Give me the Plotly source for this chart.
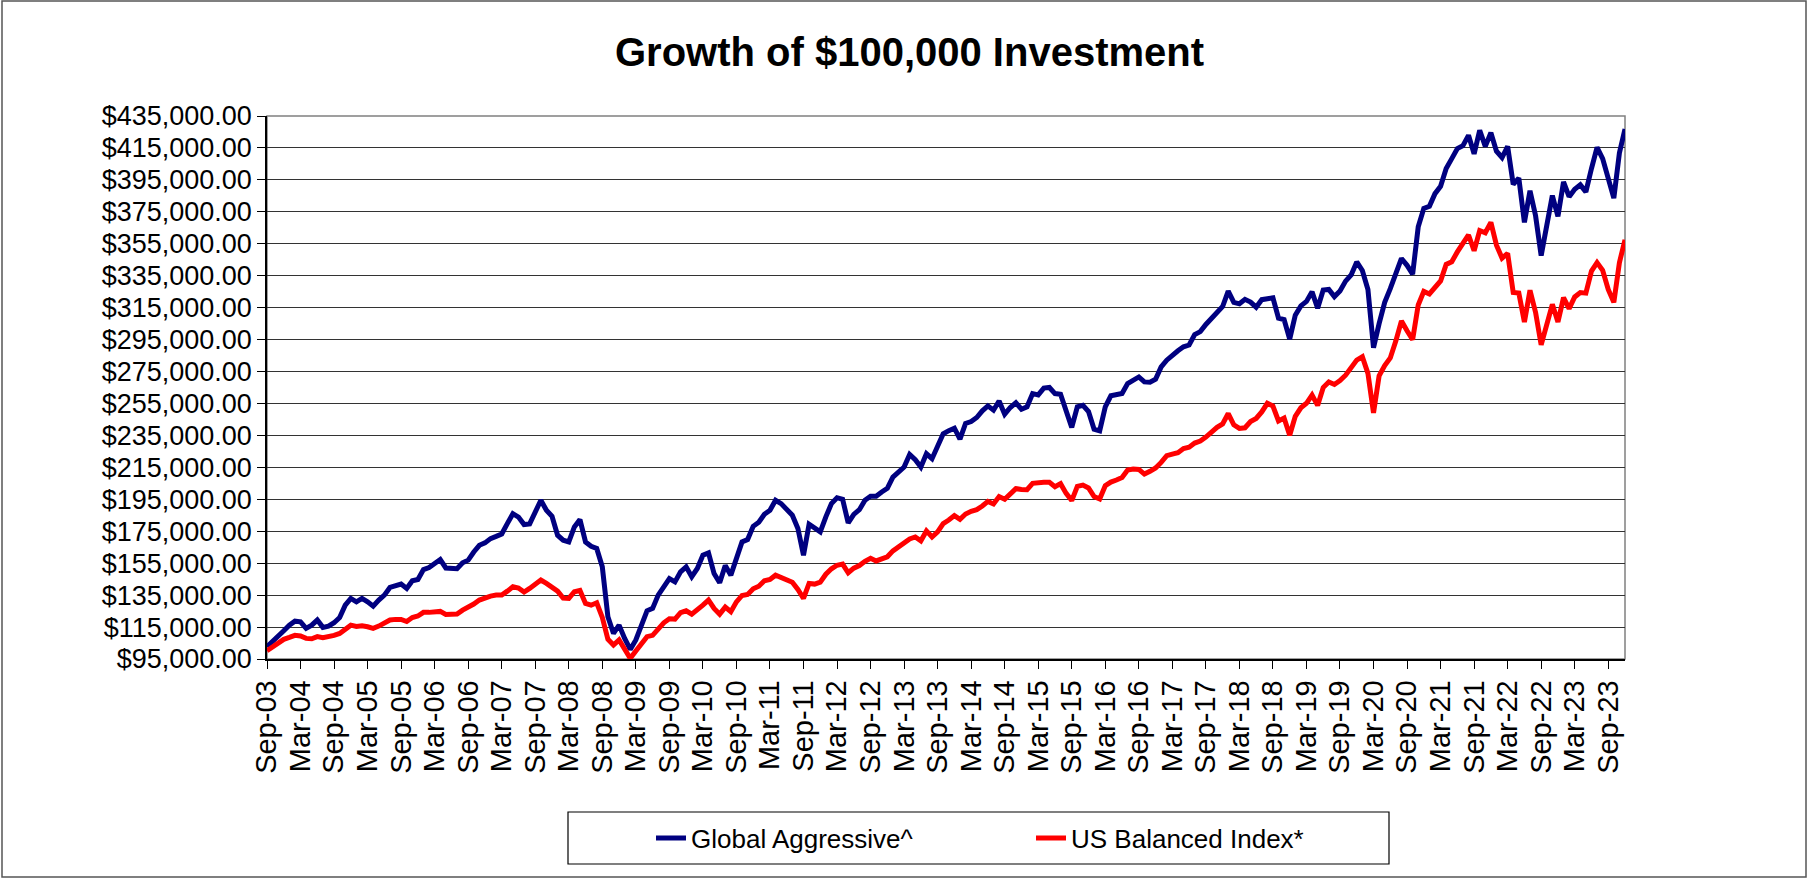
import pandas as pd
import plotly.graph_objects as go

# Monthly categories Sep-03 .. Dec-23
months = list(pd.date_range("2003-09-01", periods=244, freq="MS").strftime("%b-%y"))
tick_labels = months[::6]

global_aggressive = [
    102700, 105800, 109000, 112700, 116200, 118700, 118300, 114200, 116200, 119400, 114800, 115600,
    117700, 121000, 128700, 132900, 130800, 132900, 130800, 128100, 131900, 135000, 139800, 140600,
    141900, 139200, 144000, 144800, 151000, 152300, 155200, 157300, 152000, 151700, 151500, 155200,
    156900, 162000, 166200, 167700, 170400, 171800, 173300, 179800, 186000, 183900, 179200, 179600,
    187100, 194400, 188100, 184400, 172500, 169400, 168300, 177700, 182300, 168300, 165600, 164200,
    152700, 121500, 111000, 116200, 107900, 101000, 106900, 116200, 125200, 126700, 135000, 140200,
    145400, 143300, 149600, 152700, 146500, 151700, 160000, 161400, 148500, 142700, 153500, 147500,
    158500, 168300, 169800, 178100, 180600, 185600, 188100, 194400, 192300, 189000, 185000, 176700,
    160000, 179400, 176700, 174600, 184000, 192300, 196000, 195000, 180200, 185600, 188500, 194400,
    196900, 196900, 199600, 201900, 208900, 212100, 215200, 223100, 219800, 215200, 223500, 220400,
    228700, 236000, 238000, 239500, 232700, 242500, 243700, 246200, 250400, 253500, 250800, 256600,
    248300, 252500, 255400, 251400, 252900, 261200, 260400, 264600, 265000, 261200, 260800, 250800,
    240000, 252900, 253900, 250000, 238900, 237900, 252900, 259800, 260800, 261200, 267500, 269600,
    271600, 268500, 268300, 270200, 277900, 282100, 285400, 288000, 290500, 291600, 298100, 300000,
    304500, 308200, 311400, 315700, 325400, 318300, 317400, 320200, 318500, 315300, 320000, 320200,
    321100, 308400, 307500, 295300, 310300, 316100, 318900, 324900, 314600, 326000, 326400, 321900,
    325400, 331600, 335500, 343600, 338300, 326400, 289900, 305000, 318300, 326900, 336800, 345800,
    341500, 336000, 365600, 377200, 378500, 386400, 391000, 402100, 408300, 414600, 416400, 422900,
    411300, 426100, 416000, 424500, 413000, 409000, 416000, 392200, 396100, 368400, 388200, 372500,
    347600, 366800, 385200, 372100, 393800, 384500, 389200, 391900, 387500, 402100, 415300, 408300,
    396800, 383600, 411800, 426800,
]

us_balanced_index = [
    100200, 102700, 104800, 107300, 108500, 109800, 109400, 107900, 107700, 109000, 108300, 108700,
    109800, 111000, 113500, 116200, 115400, 115800, 115200, 114200, 115600, 117300, 119400, 119800,
    119800, 118500, 121000, 121900, 124200, 124200, 124400, 124800, 122900, 122700, 123100, 125600,
    127300, 129400, 131900, 133300, 134400, 135000, 135000, 137500, 140200, 139400, 136900, 139200,
    141900, 144400, 142300, 140200, 137500, 133100, 132900, 137100, 137900, 129800, 128700, 130200,
    121000, 107300, 103700, 106900, 101000, 95400, 100000, 104800, 109000, 109800, 114200, 117700,
    120200, 120000, 124000, 125200, 123100, 125600, 128700, 131900, 126700, 123100, 127500, 124600,
    130800, 134800, 135400, 139000, 140600, 144000, 144800, 147500, 146200, 144800, 143100, 138500,
    132900, 142300, 141900, 143100, 148100, 151500, 153700, 154400, 149000, 151900, 153500, 156200,
    158100, 156400, 157300, 159000, 162700, 165200, 168100, 170200, 171400, 169000, 175200, 171400,
    174600, 179800, 182000, 184800, 182500, 185800, 187500, 188500, 190800, 193700, 192100, 196700,
    195000, 198300, 201700, 201200, 201000, 205000, 205600, 205600, 205600, 202900, 204800, 198700,
    194200, 203100, 203900, 202100, 196700, 195200, 203500, 205800, 207100, 208700, 213300, 214000,
    213700, 210800, 212500, 214600, 218100, 222300, 223300, 224200, 226800, 227600, 230200, 231500,
    234000, 237300, 240100, 242200, 248700, 241600, 239400, 239800, 243700, 245600, 249700, 255100,
    253400, 244100, 245900, 235100, 246900, 252300, 255100, 260300, 253800, 265000, 268400, 266900,
    269300, 272700, 277500, 282200, 284300, 273800, 249100, 272300, 278700, 283500, 294200, 306700,
    300500, 295000, 316700, 325200, 323600, 327500, 331700, 342100, 343700, 349900, 355000, 360500,
    350600, 363300, 361900, 368400, 354100, 346000, 349000, 324500, 324100, 306000, 325900, 312000,
    291700, 304400, 317100, 306000, 321300, 314400, 321700, 324500, 324100, 337900, 343200, 338400,
    326400, 318300, 343200, 357500,
]

W, H = 1819, 879
L, R, T, B = 267, 194, 116, 220
pw, ph = W - L - R, H - T - B


def px_x(p):
    return (p - L) / pw


def px_y(p):
    return (H - B - p) / ph


FONT = "Liberation Sans, Arial, sans-serif"

fig = go.Figure()
fig.add_trace(go.Scatter(x=months, y=global_aggressive, mode="lines", name="Global Aggressive^",
                         line=dict(color="#000080", width=5)))
fig.add_trace(go.Scatter(x=months, y=us_balanced_index, mode="lines", name="US Balanced Index*",
                         line=dict(color="#FF0000", width=5)))

fig.update_layout(
    template="none",
    width=W, height=H,
    margin=dict(l=L, r=R, t=T, b=B, pad=0),
    paper_bgcolor="white", plot_bgcolor="white",
    font=dict(family=FONT, color="black"),
    title=dict(text="<b>Growth of $100,000 Investment</b>", x=0.5, xref="container", xanchor="center",
               y=1 - 52 / H, yanchor="middle", yref="container",
               font=dict(family=FONT, size=40, color="black")),
    showlegend=True,
    legend=dict(orientation="h", x=px_x(651), xanchor="left", y=px_y(838), yanchor="middle",
                font=dict(family=FONT, size=26, color="black"), bgcolor="rgba(0,0,0,0)",
                borderwidth=0, entrywidth=335, entrywidthmode="pixels"),
    xaxis=dict(type="category", range=[0, len(months) - 1], tickmode="array",
               tickvals=tick_labels, ticktext=tick_labels, tickangle=-90,
               ticks="outside", ticklen=8, tickwidth=1.3, tickcolor="black",
               showline=True, linecolor="black", linewidth=1.5, showgrid=False, zeroline=False,
               ticklabelstandoff=0,
               tickfont=dict(family=FONT, size=29, color="black"), automargin=False),
    yaxis=dict(range=[95000, 435000], dtick=20000, tick0=95000, tickformat="$,.2f",
               ticks="outside", ticklen=8, tickwidth=1.3, tickcolor="black",
               showline=True, linecolor="black", linewidth=1.5,
               showgrid=True, gridcolor="#333333", gridwidth=1.3, zeroline=False,
               tickfont=dict(family=FONT, size=27, color="black"), automargin=False),
    shapes=[
        dict(type="rect", xref="paper", yref="paper", x0=0, x1=1, y0=0, y1=1,
             line=dict(color="#808080", width=1.5), layer="below"),
        dict(type="rect", xref="paper", yref="paper", x0=px_x(568), x1=px_x(1389),
             y0=px_y(864), y1=px_y(812), line=dict(color="black", width=1.2)),
        dict(type="rect", xref="paper", yref="paper", x0=px_x(2), x1=px_x(1806),
             y0=px_y(877), y1=px_y(1), line=dict(color="#555555", width=1.5)),
    ],
)

fig.write_html("out.html", config={"displayModeBar": False},
               post_script="document.body.style.margin='0';")
